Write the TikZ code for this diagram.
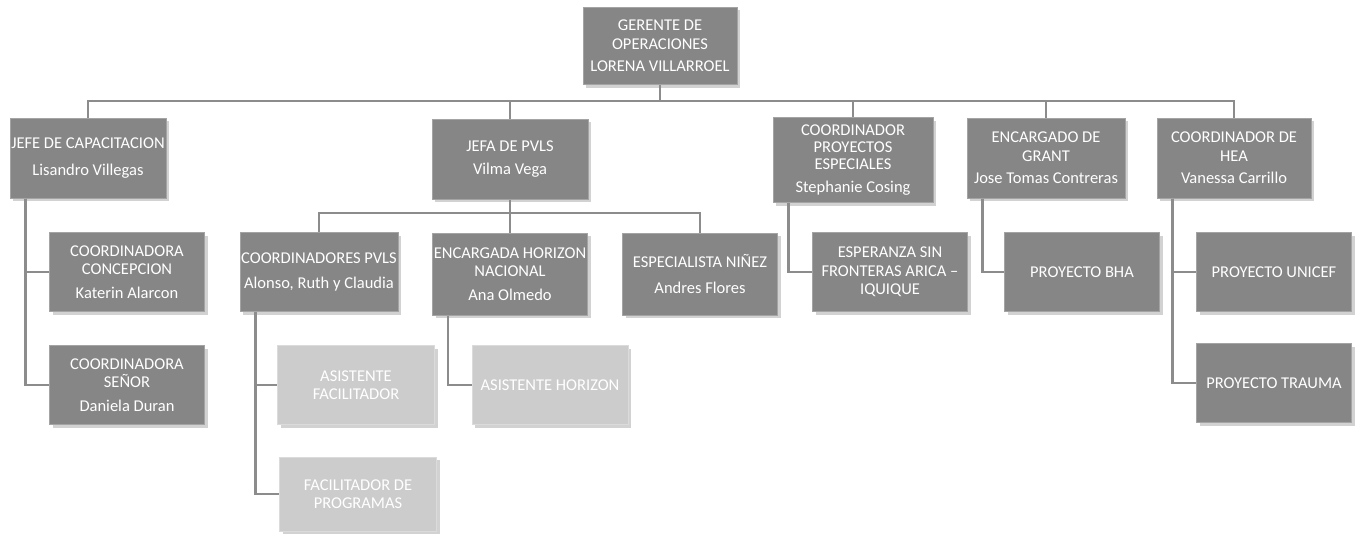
\documentclass[tikz,border=0pt]{standalone}
\usepackage{fontspec}
\setmainfont{Carlito}
\usetikzlibrary{calc,shadows}
\definecolor{gcargo}{RGB}{134,134,134}
\definecolor{gapoyo}{RGB}{204,204,204}
\definecolor{glinea}{RGB}{140,140,140}
\tikzset{
  cargo/.style={fill=gcargo,draw=gcargo!75!white,line width=1pt,text=white,align=center,
    minimum width=156,minimum height=79,inner sep=0pt,font=\fontsize{16.5}{18.5}\selectfont,
    drop shadow={shadow xshift=3pt,shadow yshift=-3pt,fill=black!35,opacity=.5}},
  apoyo/.style={cargo,fill=gapoyo,draw=gapoyo!70!white},
  rama/.style={draw=glinea,line width=2.5pt},
}
\begin{document}
\begin{tikzpicture}[x=1pt,y=-1pt]
\useasboundingbox (0,0) rectangle (1364,535);
\node[cargo,minimum width=154,minimum height=77] (ger) at (660,46) {GERENTE DE\\OPERACIONES\\[4pt]LORENA VILLARROEL};
\node[cargo,minimum height=80] (cap) at (88,158) {JEFE DE CAPACITACION\\[8pt]Lisandro Villegas};
\node[cargo,minimum height=80] (pvls) at (510,159) {JEFA DE PVLS\\[5pt]Vilma Vega};
\node[cargo,minimum width=160,minimum height=85,font=\fontsize{16.5}{17}\selectfont] (esp) at (853,160) {COORDINADOR\\PROYECTOS\\ESPECIALES\\[6pt]Stephanie Cosing};
\node[cargo,minimum width=158,minimum height=80] (grant) at (1046,158) {ENCARGADO DE\\GRANT\\[4pt]Jose Tomas Contreras};
\node[cargo,minimum width=154,minimum height=80] (hea) at (1234,158) {COORDINADOR DE\\HEA\\[4pt]Vanessa Carrillo};
\node[cargo,minimum width=155] (conc) at (127,272) {COORDINADORA\\CONCEPCION\\[5pt]Katerin Alarcon};
\node[cargo,minimum width=155] (senor) at (127,385) {COORDINADORA\\SEÑOR\\[5pt]Daniela Duran};
\node[cargo,minimum width=158] (pvlsc) at (319,272) {COORDINADORES PVLS\\[7pt]Alonso, Ruth y Claudia};
\node[cargo,minimum width=155,minimum height=82] (hor) at (510,274) {ENCARGADA HORIZON\\NACIONAL\\[5pt]Ana Olmedo};
\node[cargo,minimum width=155,minimum height=82] (nin) at (700,274) {ESPECIALISTA NIÑEZ\\[7pt]Andres Flores};
\node[cargo,minimum width=155] (fron) at (890,272) {ESPERANZA SIN\\FRONTERAS ARICA –\\IQUIQUE};
\node[cargo,minimum width=155] (bha) at (1082,272) {PROYECTO BHA};
\node[cargo,minimum width=155] (unicef) at (1274,272) {PROYECTO UNICEF};
\node[cargo,minimum width=155] (trauma) at (1274,383) {PROYECTO TRAUMA};
\node[apoyo,minimum width=157] (asfac) at (356,385) {ASISTENTE\\FACILITADOR};
\node[apoyo,minimum width=157,minimum height=74] (facprog) at (358,494) {FACILITADOR DE\\PROGRAMAS};
\node[apoyo,minimum width=156] (ashor) at (550,385) {ASISTENTE HORIZON};
\coordinate (bus) at (660,101);
\coordinate (bus2) at (510,213);
\draw[rama] (ger.south) -- (bus);
\draw[rama] (cap.north) -- (cap.north |- bus) -- (hea.north |- bus) -- (hea.north);
\foreach \n in {pvls,esp,grant} \draw[rama] (\n.north) -- (\n.north |- bus);
\draw[rama] (pvls.south) -- (bus2);
\draw[rama] (pvlsc.north) -- (pvlsc.north |- bus2) -- (nin.north |- bus2) -- (nin.north);
\draw[rama] (hor.north) -- (hor.north |- bus2);
\foreach \p/\h in {cap/conc,cap/senor,pvlsc/asfac,pvlsc/facprog,hor/ashor,esp/fron,grant/bha,hea/unicef,hea/trauma}
  \draw[rama] ($(\p.south west)+(16,0)$) |- (\h.west);
\end{tikzpicture}
\end{document}
